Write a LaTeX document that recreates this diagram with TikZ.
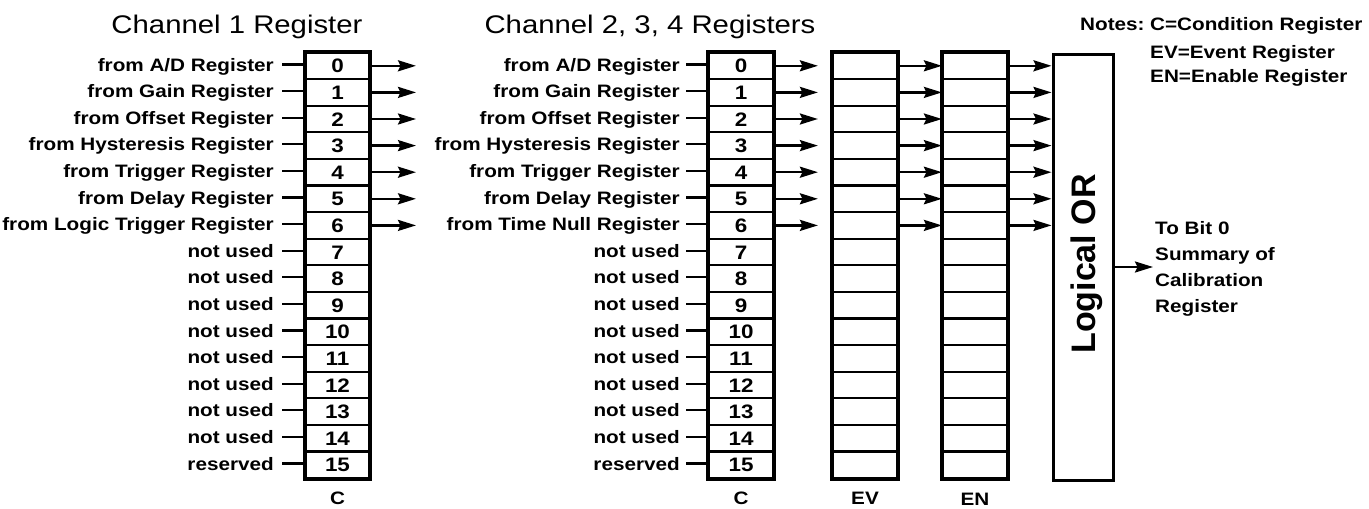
\documentclass[tikz,border=0pt]{standalone}
\usepackage{fontspec}
\setmainfont{Liberation Sans}[FakeStretch=1.15]
\newfontfamily\orfont{Liberation Sans}
\usetikzlibrary{arrows.meta}
\begin{document}
\begin{tikzpicture}[x=1pt,y=-1pt,
  lab/.style={inner sep=0pt, anchor=east, font=\bfseries\fontsize{18}{20}\selectfont, text height=13pt, text depth=0pt},
  txt/.style={inner sep=0pt, anchor=west, font=\bfseries\fontsize{18}{20}\selectfont, text height=13pt, text depth=0pt},
  ttl/.style={inner sep=0pt, font=\fontsize{25.5}{28}\selectfont, text height=18pt, text depth=0pt},
  cell/.style={draw, line width=2.2pt, minimum width=64pt, minimum height=26.6pt, inner sep=0pt,
    font=\bfseries\fontsize{19.5}{21}\selectfont, text height=14pt, text depth=0pt},
  outer/.style={draw, line width=3pt},
  conn/.style={line width=2.3pt},
  arr/.style={line width=2.3pt, -{Stealth[length=18pt,width=11pt,inset=2.5pt]}}]
\useasboundingbox (0,0) rectangle (1369,509);

% titles
\node[ttl] (t1) at (237,24) {Channel 1 Register};
\node[ttl] (t2) at (650,24) {Channel 2, 3, 4 Registers};

% Channel 1 register
\foreach \t [count=\n from 0] in {{from A/D Register},{from Gain Register},{from Offset Register},{from Hysteresis Register},{from Trigger Register},{from Delay Register},{from Logic Trigger Register},{not used},{not used},{not used},{not used},{not used},{not used},{not used},{not used},{reserved}}{
  \node[cell] (a\n) at (337.5,65.8+26.6*\n) {\n};
  \node[lab] (la\n) at (274,64.5+26.6*\n) {\t};
  \draw[conn] ([xshift=8pt]la\n.east) -- (a\n.west |- la\n.east);
}
\draw[outer] (a0.north west) rectangle (a15.south east);
\foreach \n in {0,...,6}{
  \coordinate (oa\n) at (416,65.8+26.6*\n);
  \draw[arr] (a\n.east) -- (oa\n);
}
\node[txt, anchor=center] (ca) at (337.5,498) {C};

% Channel 2,3,4 registers
\foreach \t [count=\n from 0] in {{from A/D Register},{from Gain Register},{from Offset Register},{from Hysteresis Register},{from Trigger Register},{from Delay Register},{from Time Null Register},{not used},{not used},{not used},{not used},{not used},{not used},{not used},{not used},{reserved}}{
  \node[cell] (c\n) at (741,65.8+26.6*\n) {\n};
  \node[cell] (v\n) at (865,65.8+26.6*\n) {};
  \node[cell] (e\n) at (975,65.8+26.6*\n) {};
  \node[lab] (lc\n) at (680,64.5+26.6*\n) {\t};
  \draw[conn] ([xshift=6pt]lc\n.east) -- (c\n.west |- lc\n.east);
}
\draw[outer] (c0.north west) rectangle (c15.south east);
\draw[outer] (v0.north west) rectangle (v15.south east);
\draw[outer] (e0.north west) rectangle (e15.south east);

\node[outer, minimum width=60pt, minimum height=426pt, inner sep=0pt] (or) at (1083,267) {};
\node[rotate=90, inner sep=0pt, font=\orfont\bfseries\fontsize{34}{36}\selectfont, text height=24pt, text depth=0pt] (ortxt) at (1083,264) {Logical OR};

\foreach \n in {0,...,6}{
  \draw[arr] (c\n.east) -- ([xshift=-14pt]v\n.west);
  \draw[arr] (v\n.east) -- (e\n.west);
  \draw[arr] (e\n.east) -- (or.west |- e\n.east);
}
\node[txt, anchor=center] (cc) at (741,498) {C};
\node[txt, anchor=center] (cv) at (865,498) {EV};
\node[txt, anchor=center] (ce) at (975,499) {EN};

% output
\coordinate (out) at (1153,267);
\draw[arr] (or.east |- out) -- (out);
\node[txt] (b1) at (1155,228) {To Bit 0};
\node[txt] (b2) at (1155,254) {Summary of};
\node[txt] (b3) at (1155,280) {Calibration};
\node[txt] (b4) at (1155,306) {Register};

% notes
\node[txt] (n0) at (1080,24) {Notes:};
\node[txt] (n1) at (1150,24) {C=Condition Register};
\node[txt] (n2) at (1150,52) {EV=Event Register};
\node[txt] (n3) at (1150,76) {EN=Enable Register};
\end{tikzpicture}
\end{document}
